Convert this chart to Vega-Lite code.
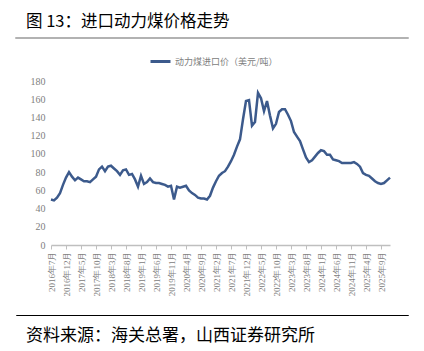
{
  "$schema": "https://vega.github.io/schema/vega-lite/v6.json",
  "padding": {"left": 15, "right": 17, "top": 12, "bottom": 2},
  "background": "white",
  "spacing": 11,
  "resolve": {"legend": {"color": "independent"}},
  "datasets": {
    "coal": [
      {"month": "2016年7月", "price": 50}, {"month": "2016年8月", "price": 49}, {"month": "2016年9月", "price": 52}, {"month": "2016年10月", "price": 57}, {"month": "2016年11月", "price": 66}, {"month": "2016年12月", "price": 74},
      {"month": "2017年1月", "price": 80}, {"month": "2017年2月", "price": 75}, {"month": "2017年3月", "price": 71}, {"month": "2017年4月", "price": 74}, {"month": "2017年5月", "price": 72}, {"month": "2017年6月", "price": 70},
      {"month": "2017年7月", "price": 70}, {"month": "2017年8月", "price": 69}, {"month": "2017年9月", "price": 72}, {"month": "2017年10月", "price": 75}, {"month": "2017年11月", "price": 83}, {"month": "2017年12月", "price": 86},
      {"month": "2018年1月", "price": 81}, {"month": "2018年2月", "price": 86}, {"month": "2018年3月", "price": 87}, {"month": "2018年4月", "price": 84}, {"month": "2018年5月", "price": 81}, {"month": "2018年6月", "price": 77},
      {"month": "2018年7月", "price": 82}, {"month": "2018年8月", "price": 83}, {"month": "2018年9月", "price": 77}, {"month": "2018年10月", "price": 78}, {"month": "2018年11月", "price": 72}, {"month": "2018年12月", "price": 64},
      {"month": "2019年1月", "price": 76}, {"month": "2019年2月", "price": 67}, {"month": "2019年3月", "price": 69}, {"month": "2019年4月", "price": 73}, {"month": "2019年5月", "price": 69}, {"month": "2019年6月", "price": 68},
      {"month": "2019年7月", "price": 68}, {"month": "2019年8月", "price": 67}, {"month": "2019年9月", "price": 66}, {"month": "2019年10月", "price": 64}, {"month": "2019年11月", "price": 65}, {"month": "2019年12月", "price": 50},
      {"month": "2020年1月", "price": 64}, {"month": "2020年2月", "price": 63}, {"month": "2020年3月", "price": 64}, {"month": "2020年4月", "price": 65}, {"month": "2020年5月", "price": 60}, {"month": "2020年6月", "price": 57},
      {"month": "2020年7月", "price": 55}, {"month": "2020年8月", "price": 52}, {"month": "2020年9月", "price": 51}, {"month": "2020年10月", "price": 51}, {"month": "2020年11月", "price": 50}, {"month": "2020年12月", "price": 54},
      {"month": "2021年1月", "price": 63}, {"month": "2021年2月", "price": 70}, {"month": "2021年3月", "price": 76}, {"month": "2021年4月", "price": 79}, {"month": "2021年5月", "price": 81}, {"month": "2021年6月", "price": 86},
      {"month": "2021年7月", "price": 92}, {"month": "2021年8月", "price": 99}, {"month": "2021年9月", "price": 108}, {"month": "2021年10月", "price": 116}, {"month": "2021年11月", "price": 138}, {"month": "2021年12月", "price": 158},
      {"month": "2022年1月", "price": 159}, {"month": "2022年2月", "price": 131}, {"month": "2022年3月", "price": 135}, {"month": "2022年4月", "price": 167}, {"month": "2022年5月", "price": 161}, {"month": "2022年6月", "price": 147},
      {"month": "2022年7月", "price": 158}, {"month": "2022年8月", "price": 142}, {"month": "2022年9月", "price": 128}, {"month": "2022年10月", "price": 133}, {"month": "2022年11月", "price": 146}, {"month": "2022年12月", "price": 149},
      {"month": "2023年1月", "price": 149}, {"month": "2023年2月", "price": 143}, {"month": "2023年3月", "price": 136}, {"month": "2023年4月", "price": 124}, {"month": "2023年5月", "price": 119}, {"month": "2023年6月", "price": 114},
      {"month": "2023年7月", "price": 105}, {"month": "2023年8月", "price": 96}, {"month": "2023年9月", "price": 91}, {"month": "2023年10月", "price": 93}, {"month": "2023年11月", "price": 97}, {"month": "2023年12月", "price": 101},
      {"month": "2024年1月", "price": 104}, {"month": "2024年2月", "price": 103}, {"month": "2024年3月", "price": 99}, {"month": "2024年4月", "price": 99}, {"month": "2024年5月", "price": 94}, {"month": "2024年6月", "price": 93},
      {"month": "2024年7月", "price": 92}, {"month": "2024年8月", "price": 90}, {"month": "2024年9月", "price": 90}, {"month": "2024年10月", "price": 90}, {"month": "2024年11月", "price": 90}, {"month": "2024年12月", "price": 91},
      {"month": "2025年1月", "price": 89}, {"month": "2025年2月", "price": 86}, {"month": "2025年3月", "price": 79}, {"month": "2025年4月", "price": 77}, {"month": "2025年5月", "price": 76}, {"month": "2025年6月", "price": 73},
      {"month": "2025年7月", "price": 70}, {"month": "2025年8月", "price": 68}, {"month": "2025年9月", "price": 67}, {"month": "2025年10月", "price": 68}, {"month": "2025年11月", "price": 71}, {"month": "2025年12月", "price": 74}
    ]
  },
  "vconcat": [
    {
      "width": 392,
      "height": 0.01,
      "view": {"stroke": "#999999", "strokeWidth": 1.5},
      "title": {"text": "图 13：进口动力煤价格走势", "anchor": "start", "dx": 10, "offset": 8, "fontSize": 16.5, "font": "Noto Sans CJK SC", "fontWeight": "normal", "color": "#000000"},
      "data": {"values": []},
      "mark": "text",
      "encoding": {}
    },
    {
      "width": 392,
      "height": 164,
      "view": {"stroke": null},
      "data": {"name": "coal"},
      "mark": {"type": "line", "strokeWidth": 2.5},
      "encoding": {
        "x": {
          "field": "month",
          "type": "ordinal",
          "sort": null,
          "scale": {"type": "point", "padding": 0, "range": [35, 374]},
          "axis": {
            "title": " ",
            "titleFontSize": 1,
            "titlePadding": 6,
            "values": ["2016年7月", "2016年12月", "2017年5月", "2017年10月", "2018年3月", "2018年8月", "2019年1月", "2019年6月", "2019年11月", "2020年4月", "2020年9月", "2021年2月", "2021年7月", "2021年12月", "2022年5月", "2022年10月", "2023年3月", "2023年8月", "2024年1月", "2024年6月", "2024年11月", "2025年4月", "2025年9月"],
            "labelAngle": -90,
            "labelFontSize": 9,
            "labelFont": "Liberation Serif",
            "labelColor": "#808080",
            "labelPadding": 2,
            "domainColor": "#BFBFBF",
            "domainWidth": 1.5,
            "tickColor": "#BFBFBF",
            "tickSize": 4,
            "grid": false
          }
        },
        "y": {
          "field": "price",
          "type": "quantitative",
          "scale": {"domain": [0, 180], "nice": false},
          "axis": {
            "title": null,
            "values": [0, 20, 40, 60, 80, 100, 120, 140, 160, 180],
            "domain": false,
            "ticks": false,
            "tickSize": 0,
            "grid": false,
            "offset": -32,
            "labelPadding": 3,
            "labelFontSize": 10,
            "labelFont": "Liberation Serif",
            "labelColor": "#808080"
          }
        },
        "color": {
          "datum": "动力煤进口价（美元/吨）",
          "scale": {"range": ["#3C5A8C"]},
          "legend": {
            "orient": "none",
            "legendX": 133,
            "legendY": -31,
            "title": null,
            "symbolType": "stroke",
            "symbolStrokeWidth": 3,
            "symbolSize": 400,
            "labelFontSize": 9,
            "labelFont": "Noto Sans CJK SC",
            "labelColor": "#808080",
            "labelOffset": 3
          }
        }
      }
    },
    {
      "width": 392,
      "height": 0.01,
      "view": {"stroke": "#000000", "strokeWidth": 1},
      "title": {"text": "资料来源：海关总署，山西证券研究所", "orient": "bottom", "anchor": "start", "dx": 10, "offset": 13, "fontSize": 17, "font": "Noto Sans CJK SC", "fontWeight": "normal", "color": "#000000"},
      "data": {"values": []},
      "mark": "text",
      "encoding": {}
    }
  ]
}
